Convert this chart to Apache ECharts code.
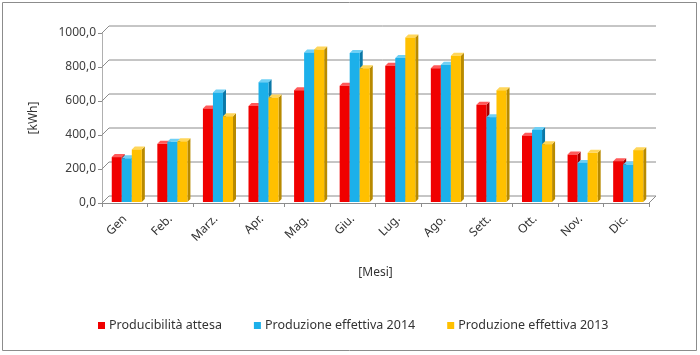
<!DOCTYPE html>
<html><head><meta charset="utf-8">
<script src="https://cdn.jsdelivr.net/npm/echarts@6/dist/echarts.min.js"></script>
<style>html,body{margin:0;padding:0;background:#fff}#c{width:700px;height:355px}</style>
</head><body><div id="c"></div>
<script>
var months = ['Gen','Feb.','Marz.','Apr.','Mag.','Giu.','Lug.','Ago.','Sett.','Ott.','Nov.','Dic.'];
var attesa = [270,348,556,570,663,690,808,793,578,396,285,246];
var eff2014 = [263,360,650,710,886,883,853,813,505,430,236,226];
var eff2013 = [315,363,511,621,903,793,973,866,663,346,295,311];
var yTicks = [0,200,400,600,800,1000];
var seriesNames = ['Producibilità attesa','Produzione effettiva 2014','Produzione effettiva 2013'];

var palettes = [
  {front:'#f00000', side:'#a80000', top:'#ff5a5a'},
  {front:'#1cb0ea', side:'#0a78a8', top:'#6fd0f5'},
  {front:'#ffc000', side:'#b88a00', top:'#ffd65a'}
];
var DX = 3, DY = 3;

function barRender(s) {
  return function (params, api) {
    var idx = api.value(0), v = api.value(1);
    var top = api.coord([idx, v]);
    var base = api.coord([idx, 0]);
    var band = api.size([1, 0])[0];
    var bw = band * 0.22;
    var xL = top[0] - 1.5 * bw + s * bw + 2;
    var xR = xL + bw;
    var yT = top[1], yB = base[1] - 1;
    var p = palettes[s];
    return {
      type: 'group',
      children: [
        {type:'polygon', shape:{points:[[xR,yT],[xR+DX,yT-DY],[xR+DX,yB-DY],[xR,yB]]}, style:{fill:p.side}},
        {type:'polygon', shape:{points:[[xL,yT],[xL+DX,yT-DY],[xR+DX,yT-DY],[xR,yT]]}, style:{fill:p.top}},
        {type:'rect', shape:{x:xL, y:yT, width:bw, height:yB-yT}, style:{fill:p.front}}
      ]
    };
  };
}

function wallRender(params, api) {
  var v = api.value(1);
  var y = api.coord([0, v])[1];
  var cs = params.coordSys;
  var x0 = cs.x, x1 = cs.x + cs.width;
  var ch = [
    {type:'polyline', shape:{points:[[x0,y],[x0+7,y-7],[x1+7,y-7]]}, style:{stroke:'#8c8c8c', lineWidth:1, fill:null}}
  ];
  if (v === 0) {
    ch.push({type:'line', shape:{x1:x1, y1:y, x2:x1+7, y2:y-7}, style:{stroke:'#8c8c8c', lineWidth:1}});
  }
  return {type:'group', children: ch};
}

var series = [{
  type:'custom', name:'wall', z:1, silent:true,
  renderItem: wallRender,
  data: yTicks.map(function (v) { return [0, v]; })
}];
[attesa, eff2014, eff2013].forEach(function (arr, s) {
  series.push({
    type:'custom', name: seriesNames[s], z: 2 + s,
    renderItem: barRender(s),
    itemStyle: {color: palettes[s].front},
    encode: {x: 0, y: 1},
    data: arr.map(function (v, i) { return [i, v]; })
  });
});

var chart = echarts.init(document.getElementById('c'), null, {renderer:'canvas'});
chart.setOption({
  animation: false,
  backgroundColor: '#fff',
  textStyle: {fontFamily: 'Noto Sans'},
  graphic: [{type:'rect', shape:{x:2.5, y:2.5, width:694, height:348}, style:{fill:null, stroke:'#8c8c8c', lineWidth:1}, z:0}],
  grid: {left:102, right:51, top:33, bottom:152},
  legend: {
    data: seriesNames, bottom: 18, left: 93,
    icon: 'rect', itemWidth: 7, itemHeight: 7, itemGap: 32,
    textStyle: {fontFamily:'Noto Sans', fontSize: 12.5, color:'#333', padding:[0,0,0,-1]}
  },
  xAxis: {
    type: 'category', data: months,
    name: '[Mesi]', nameLocation: 'middle', nameGap: 64,
    nameTextStyle: {fontSize: 12, color:'#333'},
    axisLine: {show:true, lineStyle:{color:'#8c8c8c'}},
    axisTick: {show:true, alignWithLabel:false, length:4, lineStyle:{color:'#8c8c8c'}},
    axisLabel: {rotate: 45, margin: 14, fontSize: 12, color:'#333'},
    splitLine: {show:false}
  },
  yAxis: {
    type: 'value', min: 0, max: 1000, interval: 200,
    name: '[kWh]', nameLocation: 'middle', nameGap: 62,
    nameTextStyle: {fontSize: 12, color:'#333'},
    axisLine: {show:true, lineStyle:{color:'#b0b0b0'}},
    axisTick: {show:true, length:4, lineStyle:{color:'#8c8c8c'}},
    axisLabel: {fontSize: 12, color:'#404040', margin: 6, formatter: function (v) { return v.toFixed(1).replace('.', ','); }},
    splitLine: {show:false}
  },
  series: series
});
</script></body></html>
